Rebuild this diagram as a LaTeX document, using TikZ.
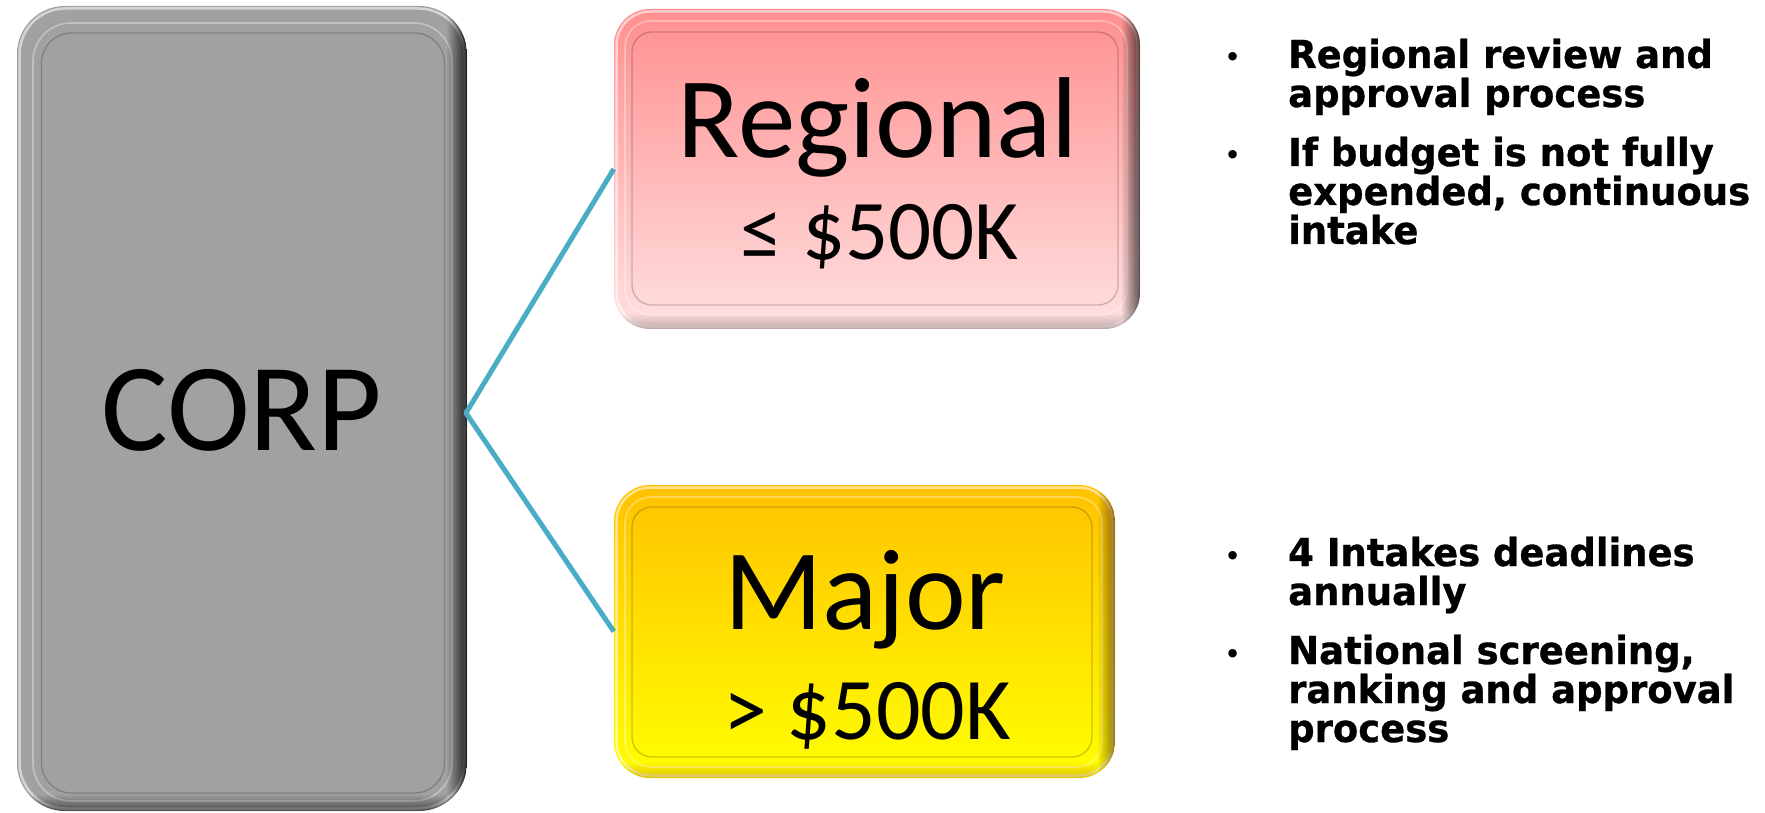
\documentclass[tikz,border=0pt]{standalone}
\usepackage{fontspec}
\setmainfont{Carlito}
\newfontfamily\vfont[FakeStretch=0.96,FakeBold=0.8]{DejaVu Sans}
\newfontfamily\dotfont{DejaVu Sans}
\usetikzlibrary{fadings}
\definecolor{corpfill}{HTML}{A1A1A1}
\definecolor{regtop}{HTML}{FF8F8F}
\definecolor{regbot}{HTML}{FFE0E0}
\definecolor{majtop}{HTML}{FFC200}
\definecolor{majmid}{HTML}{FFF000}
\definecolor{majbot}{HTML}{FFFF00}
\definecolor{linkblue}{HTML}{4BACC6}
\newcommand\setlinesp{\baselineskip=39pt\lineskiplimit=-50pt\lineskip=0pt}
\tikzset{
  boxshape/.style={rectangle, rounded corners=#1, inner sep=0pt, draw=none},
  rim/.style={draw=white, draw opacity=.55, line width=2.5pt},
  ridge/.style={draw=white, draw opacity=.35, line width=1.6pt},
  groove/.style={draw=black, draw opacity=.2, line width=1.3pt},
  boxtext/.style={inner sep=0pt, anchor=base, text=black},
  bullettext/.style={inner sep=0pt, anchor=base west, font=\vfont\bfseries\fontsize{38.5pt}{39pt}\selectfont},
  bulletdot/.style={inner sep=0pt, anchor=base, font=\dotfont\fontsize{29pt}{29pt}\selectfont},
  connector/.style={draw=linkblue, line width=5pt, line join=round},
}
\begin{document}
\begin{tikzpicture}[x=1pt,y=-1pt]
\useasboundingbox (0,0) rectangle (1765,813);
\fill[white] (0,0) rectangle (1765,813);

% ---------- CORP box ----------
\node[boxshape=48pt, fill=corpfill, minimum width=450pt, minimum height=805pt] (corp) at (242,408.5) {};
\draw[rim, rounded corners=46pt] (19.5,8.5) rectangle (464.5,808.5);
\draw[ridge, rounded corners=38pt] (33,23) rectangle (452,801);
\draw[groove, rounded corners=30pt] (41.5,33) rectangle (444.5,793);
\begin{scope}
  \clip[rounded corners=48pt] (17,6) rectangle (467,811);
  \fill[black, fill opacity=.8, path fading=west] (446,0) rectangle (467,813);
  \fill[black, fill opacity=.55, path fading=north] (0,794) rectangle (470,811);
\end{scope}

% ---------- Regional box ----------
\node[boxshape=36pt, top color=regtop, bottom color=regbot, minimum width=526pt, minimum height=320pt] (regional) at (877,169) {};
\draw[rim, rounded corners=34pt] (616.5,11.5) rectangle (1137.5,326.5);
\draw[ridge, rounded corners=26pt] (625,21) rectangle (1127,315);
\draw[groove, rounded corners=20pt] (632,32) rectangle (1118,305);
\begin{scope}
  \clip[rounded corners=36pt] (614,9) rectangle (1140,329);
  \fill[black, fill opacity=.65, path fading=west] (1121,0) rectangle (1140,340);
  \fill[black, fill opacity=.25, path fading=north] (0,313) rectangle (1145,329);
\end{scope}

% ---------- Major box ----------
\node[boxshape=36pt, top color=majtop, middle color=majmid, bottom color=majbot, minimum width=501pt, minimum height=293pt] (major) at (864.5,631.5) {};
\draw[rim, rounded corners=34pt] (616.5,487.5) rectangle (1112.5,775.5);
\draw[ridge, rounded corners=26pt] (625,497) rectangle (1102,767);
\draw[groove, rounded corners=20pt] (632,507) rectangle (1092,757);
\begin{scope}
  \clip[rounded corners=36pt] (614,485) rectangle (1115,778);
  \fill[black!70!orange, fill opacity=.6, path fading=west] (1097,480) rectangle (1115,780);
  \fill[black!40!orange, fill opacity=.35, path fading=north] (0,762) rectangle (1120,778);
\end{scope}

% ---------- connectors ----------
\coordinate (j) at (466,413);
\draw[connector] (regional.west) -- (j) -- (major.west);

% ---------- box texts ----------
\node[boxtext, font=\fontsize{125pt}{125pt}\selectfont] (corpt) at (242,450) {CORP};
\node[boxtext, font=\fontsize{115pt}{115pt}\selectfont] (regt) at (878,158) {Regional};
\node[boxtext, font=\fontsize{85pt}{85pt}\selectfont] (regv) at (880,260) {≤ \$500K};
\node[boxtext, font=\fontsize{115pt}{115pt}\selectfont] (majt) at (865,629) {Major};
\node[boxtext, font=\fontsize{88pt}{88pt}\selectfont] (majv) at (867,739) {> \$500K};

% ---------- bullet lists ----------
\node[bulletdot] (d1) at (1233,68) {•};
\node[bullettext] (b1) at (1288,68) {\vtop{\setlinesp\hbox{Regional review and}\hbox{approval process}}};
\node[bulletdot] (d2) at (1233,166) {•};
\node[bullettext] (b2) at (1288,166) {\vtop{\setlinesp\hbox{If budget is not fully}\hbox{expended, continuous}\hbox{intake}}};
\node[bulletdot] (d3) at (1233,566) {•};
\node[bullettext] (b3) at (1288,566) {\vtop{\setlinesp\hbox{4 Intakes deadlines}\hbox{annually}}};
\node[bulletdot] (d4) at (1233,664) {•};
\node[bullettext] (b4) at (1288,664) {\vtop{\setlinesp\hbox{National screening,}\hbox{ranking and approval}\hbox{process}}};
\end{tikzpicture}
\end{document}
